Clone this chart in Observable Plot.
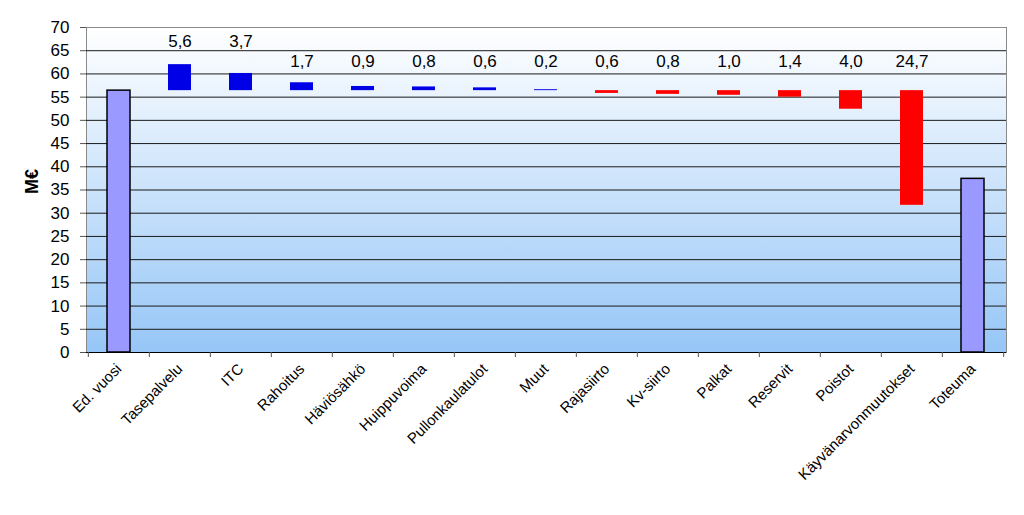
<!DOCTYPE html>
<html><head><meta charset="utf-8">
<script src="https://cdn.jsdelivr.net/npm/d3@7"></script>
<script src="https://cdn.jsdelivr.net/npm/@observablehq/plot@0.6"></script>
<style>body{margin:0;background:#fff;}</style>
</head><body><div id="chart"></div>
<script>
const categories = ["Ed. vuosi","Tasepalvelu","ITC","Rahoitus","Häviösähkö","Huippuvoima","Pullonkaulatulot","Muut","Rajasiirto","Kv-siirto","Palkat","Reservit","Poistot","Käyvänarvonmuutokset","Toteuma"];
const startTotal = 56.4;
const endTotal = 37.4;
const changes = [5.6, 3.7, 1.7, 0.9, 0.8, 0.6, 0.2, -0.6, -0.8, -1.0, -1.4, -4.0, -24.7];
const yTicks = [0,5,10,15,20,25,30,35,40,45,50,55,60,65,70];

const W = 1024, H = 515, mL = 86, mR = 18, mT = 27, mB = 163;
const step = (W - mL - mR) / categories.length;

const totals = [
  {cat: categories[0], y1: 0, y2: startTotal},
  {cat: categories[categories.length - 1], y1: 0, y2: endTotal}
];
const deltas = changes.map((v, i) => ({cat: categories[i + 1], v, y1: startTotal, y2: startTotal + v}));
const fmt = v => d3.format(".1f")(Math.abs(v)).replace(".", ",");
const labelY = d => (Math.max(d.y1, d.y2) > 59 ? 67 : 62.7);

const defs = () => {
  const g = d3.create("svg:defs");
  const lg = g.append("linearGradient").attr("id", "bg").attr("x1", 0).attr("y1", 0).attr("x2", 0).attr("y2", 1);
  lg.append("stop").attr("offset", "0%").attr("stop-color", "#ffffff");
  lg.append("stop").attr("offset", "100%").attr("stop-color", "#96c6f7");
  return g.node();
};

const chart = Plot.plot({
  width: W, height: H,
  marginLeft: mL, marginRight: mR, marginTop: mT, marginBottom: mB,
  style: {fontFamily: "'Liberation Sans', Arial, sans-serif", fontSize: "15px", color: "#000", background: "#fff"},
  x: {domain: categories, paddingInner: 0.615, paddingOuter: 0.3075, label: null},
  y: {domain: [0, 70], label: null},
  color: {type: "identity"},
  marks: [
    defs,
    Plot.frame({fill: "url(#bg)", stroke: "#8a8a8a"}),
    Plot.ruleY(yTicks.filter(t => t > 0 && t < 70), {stroke: "#1a1a1a", strokeWidth: 1}),
    Plot.barY(totals, {x: "cat", y1: "y1", y2: "y2", fill: "#9999ff", stroke: "#000", strokeWidth: 1.5}),
    Plot.barY(deltas, {x: "cat", y1: "y1", y2: "y2", fill: d => d.v > 0 ? "#0000e6" : "#ff0000"}),
    Plot.ruleY([0], {stroke: "#000", strokeWidth: 1}),
    Plot.axisY({ticks: yTicks, tickSize: 6, tickPadding: 11, fontSize: 17, stroke: "#555", label: null}),
    Plot.axisX({tickSize: 5, tickFormat: () => "", dx: -step / 2, stroke: "#555", label: null}),
    Plot.axisX({ticks: [categories[categories.length - 1]], tickSize: 5, tickFormat: () => "", dx: step / 2, stroke: "#555", label: null}),
    Plot.axisX({tickSize: 0, tickPadding: 14, tickRotate: -45, fontSize: 15, label: null}),
    Plot.text(deltas, {x: "cat", y: labelY, text: d => fmt(d.v), fontSize: 17, lineAnchor: "middle", fill: "#000"}),
    Plot.text(["M€"], {frameAnchor: "left", dx: -54, dy: 4, rotate: -90, text: d => d, fontWeight: "bold", fontSize: 18, fill: "#000"})
  ]
});
document.getElementById("chart").append(chart);
</script>
</body></html>
